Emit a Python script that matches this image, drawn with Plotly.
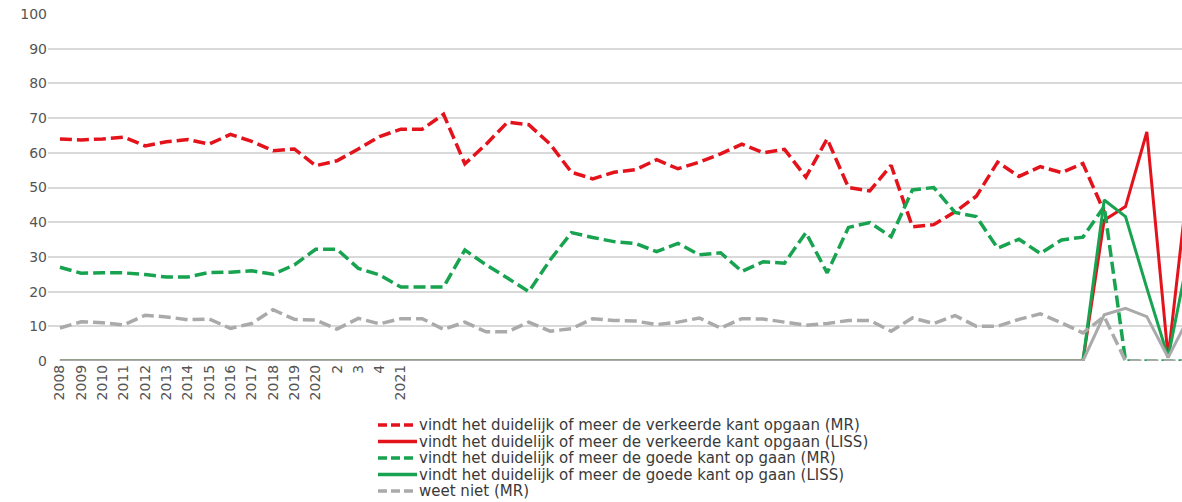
import plotly.graph_objects as go

# category positions and the labels shown under the first few of them
x_pos = list(range(54))
tick_labels = ["2008", "2009", "2010", "2011", "2012", "2013", "2014", "2015", "2016",
               "2017", "2018", "2019", "2020", "2", "3", "4", "2021"]

verkeerd_mr = [64, 63.7, 64, 64.5, 62, 63.2, 63.8, 62.5, 65.3, 63.3,
               60.6, 61.1, 56.3, 57.7, 61.1, 64.7, 66.8, 66.8, 71.1, 56.8,
               62.5, 68.8, 68.1, 62.5, 54.4, 52.5, 54.4, 55.1, 58, 55.4,
               57.3, 59.7, 62.5, 60, 61, 53, 64, 50, 49, 56.4,
               38.7, 39.3, 43, 47.5, 57.3, 53.2, 56, 54.3, 56.9, 43,
               None, None, None, None]
verkeerd_liss = [0, 0, 0, 0, 0, 0, 0, 0, 0, 0,
                 0, 0, 0, 0, 0, 0, 0, 0, 0, 0,
                 0, 0, 0, 0, 0, 0, 0, 0, 0, 0,
                 0, 0, 0, 0, 0, 0, 0, 0, 0, 0,
                 0, 0, 0, 0, 0, 0, 0, 0, 0, 40.6,
                 44.5, 66, 1, 55]
goed_mr = [27, 25.3, 25.4, 25.4, 24.9, 24.2, 24.2, 25.5, 25.6, 26,
           25, 27.7, 32.2, 32.2, 26.7, 24.8, 21.3, 21.3, 21.3, 32,
           27.7, 23.9, 20, 29.1, 37, 35.6, 34.4, 33.9, 31.5, 33.9,
           30.6, 31.2, 25.8, 28.6, 28.2, 37, 25.4, 38.5, 39.9, 35.8,
           49.3, 50, 42.8, 41.6, 32.5, 35.1, 31, 34.9, 35.7, 44.5,
           0, 0, 0, 0]
goed_liss = [0, 0, 0, 0, 0, 0, 0, 0, 0, 0,
             0, 0, 0, 0, 0, 0, 0, 0, 0, 0,
             0, 0, 0, 0, 0, 0, 0, 0, 0, 0,
             0, 0, 0, 0, 0, 0, 0, 0, 0, 0,
             0, 0, 0, 0, 0, 0, 0, 0, 0, 46.4,
             41.6, 21, 1, 32]
weetniet_mr = [9.5, 11.3, 11, 10.4, 13.2, 12.7, 11.9, 12.1, 9.4, 10.8,
               14.8, 12, 11.8, 9.2, 12.3, 10.7, 12.2, 12.2, 9.1, 11.2,
               8.4, 8.4, 11.2, 8.6, 9.3, 12.2, 11.7, 11.5, 10.5, 11.2,
               12.4, 9.5, 12.2, 12.1, 11.2, 10.3, 10.8, 11.7, 11.7, 8.6,
               12.4, 10.8, 13.1, 10, 10, 12, 13.6, 11, 8.1, 12.8,
               0, 0, 0, 0]
weetniet_liss = [0, 0, 0, 0, 0, 0, 0, 0, 0, 0,
                 0, 0, 0, 0, 0, 0, 0, 0, 0, 0,
                 0, 0, 0, 0, 0, 0, 0, 0, 0, 0,
                 0, 0, 0, 0, 0, 0, 0, 0, 0, 0,
                 0, 0, 0, 0, 0, 0, 0, 0, 0, 13.3,
                 15.2, 12.8, 1, 13]

RED = "#e3121b"
GREEN = "#17a34f"
GREY = "#aaaaaa"
DASH = "12px,5px"

W, H = 1182, 502
ML, MR_, MT, MB = 48, 0, 14, 141
PW, PH = W - ML - MR_, H - MT - MB

fig = go.Figure()

# draw order: solids under, grey LISS covers the zero stretch, MR zeros on top
traces = [
    (verkeerd_mr, "vindt het duidelijk of meer de verkeerde kant opgaan (MR)", RED, DASH),
    (verkeerd_liss, "vindt het duidelijk of meer de verkeerde kant opgaan (LISS)", RED, "solid"),
    (goed_liss, "vindt het duidelijk of meer de goede kant op gaan (LISS)", GREEN, "solid"),
    (weetniet_liss, "weet niet (LISS)", GREY, "solid"),
    (goed_mr, "vindt het duidelijk of meer de goede kant op gaan (MR)", GREEN, DASH),
    (weetniet_mr, "weet niet (MR)", GREY, DASH),
]
for vals, name, col, dash in traces:
    fig.add_trace(go.Scatter(
        x=x_pos, y=vals, name=name, mode="lines",
        line=dict(color=col, width=3.5 if dash != "solid" else 3, dash=dash),
        showlegend=False, connectgaps=False,
    ))

# legend drawn by hand so the rows sit as tightly as in the original
legend_rows = [
    ("vindt het duidelijk of meer de verkeerde kant opgaan (MR)", RED, "9px,4px"),
    ("vindt het duidelijk of meer de verkeerde kant opgaan (LISS)", RED, "solid"),
    ("vindt het duidelijk of meer de goede kant op gaan (MR)", GREEN, "9px,4px"),
    ("vindt het duidelijk of meer de goede kant op gaan (LISS)", GREEN, "solid"),
    ("weet niet (MR)", GREY, "9px,4px"),
]
row_top, row_step = 425, 16.5
for k, (label, col, dash) in enumerate(legend_rows):
    ypx = row_top + k * row_step
    yp = (H - MB - ypx) / PH
    fig.add_shape(type="line", xref="paper", yref="paper",
                  x0=(378 - ML) / PW, x1=(417 - ML) / PW, y0=yp, y1=yp,
                  line=dict(color=col, width=3.5, dash=dash))
    fig.add_annotation(text=label, xref="paper", yref="paper",
                       x=(417 - ML) / PW, y=yp, xanchor="left", yanchor="middle",
                       showarrow=False, font=dict(size=15, color="#3a3a3a"))

fig.update_layout(
    width=W, height=H,
    margin=dict(l=ML, r=MR_, t=MT, b=MB, autoexpand=False),
    paper_bgcolor="white", plot_bgcolor="white",
    font=dict(family="DejaVu Sans", size=14, color="#555555"),
    showlegend=False,
)
fig.update_xaxes(
    range=[-0.56, 52.65], tickmode="array",
    tickvals=x_pos[:len(tick_labels)], ticktext=tick_labels,
    tickangle=-90, showgrid=False, zeroline=False, showline=False, ticks="",
    automargin=False,
)
fig.update_yaxes(
    range=[0, 100], dtick=10, showgrid=True, gridcolor="#d9d9d9", gridwidth=2,
    zeroline=False, showline=False, ticks="", automargin=False,
)

# drop the default 8px page margin so the figure fills the window exactly
fig.write_html("out.html", config={"displayModeBar": False},
               post_script="document.body.style.margin='0px';")
